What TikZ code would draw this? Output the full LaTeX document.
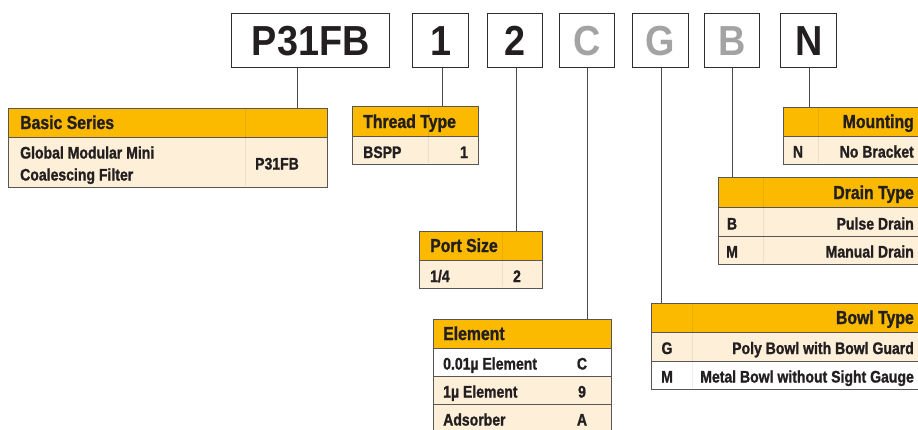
\documentclass[tikz,border=0pt]{standalone}
\usepackage{fontspec}
\newfontfamily\cf{Liberation Sans}[FakeStretch=0.84,FakeBold=1.2]
\newfontfamily\topfont{Liberation Sans}[FakeStretch=0.9]
\definecolor{hdr}{HTML}{FBBA00}
\definecolor{cream}{HTML}{FEF0D8}
\definecolor{ink}{HTML}{231F20}
\definecolor{greyink}{HTML}{A3A3A3}
\definecolor{boxline}{HTML}{2E2E2E}
\definecolor{tabline}{HTML}{5A5655}
\definecolor{linkc}{HTML}{4A4A4A}
\tikzset{
  codebox/.style={draw=boxline, line width=1.3pt, minimum height=54pt, inner sep=0pt, anchor=north west,
    font=\topfont\bfseries\fontsize{42}{42}\selectfont, text=ink},
  hdrcell/.style={draw=tabline, line width=1.2pt, fill=hdr, inner sep=0pt, anchor=north west},
  creamcell/.style={draw=tabline, line width=1.2pt, fill=cream, inner sep=0pt, anchor=north west},
  whitecell/.style={draw=tabline, line width=1.2pt, fill=white, inner sep=0pt, anchor=north west},
  htext/.style={font=\cf\bfseries\fontsize{18.8}{20}\selectfont, text=ink, inner sep=0pt},
  btext/.style={font=\cf\bfseries\fontsize{16.7}{18}\selectfont, text=ink, inner sep=0pt},
  link/.style={draw=linkc, line width=1pt},
  divider/.style={draw=black, draw opacity=0.07, line width=0.5pt}
}
\begin{document}
\begin{tikzpicture}[x=1pt,y=-1pt]
\clip (0,0) rectangle (918,429);
\fill[white] (0,0) rectangle (918,429);

% ---- top code boxes ----
\node[codebox, minimum width=158pt] (tP) at (231,13) {P31FB};
\node[codebox, minimum width=56pt] (t1) at (412,13) {1};
\node[codebox, minimum width=55pt] (t2) at (487,13) {2};
\node[codebox, minimum width=55pt, text=greyink] (tC) at (559,13) {C};
\node[codebox, minimum width=56pt, text=greyink] (tG) at (632,13) {G};
\node[codebox, minimum width=55pt, text=greyink] (tB) at (704,13) {B};
\node[codebox, minimum width=56pt] (tN) at (780,13) {N};

% ---- Basic Series ----
\node[hdrcell, minimum width=319pt, minimum height=29pt] (bsH) at (8,108) {};
\node[creamcell, minimum width=319pt, minimum height=50pt] (bsB) at (8,137) {};
\draw[divider] (245,109) -- (245,186);
\node[htext, anchor=base west] (bsT) at (20,129) {Basic Series};
\node[btext, anchor=base west] (bsL1) at (20,158.5) {Global Modular Mini};
\node[btext, anchor=base west] (bsL2) at (20,180.5) {Coalescing Filter};
\node[btext, anchor=base] (bsC) at (277,169.5) {P31FB};

% ---- Thread Type ----
\node[hdrcell, minimum width=126pt, minimum height=30pt] (thH) at (352,106) {};
\node[creamcell, minimum width=126pt, minimum height=28pt] (thB) at (352,136) {};
\draw[divider] (428,107) -- (428,163);
\node[htext, anchor=base west] (thT) at (363,128) {Thread Type};
\node[btext, anchor=base west] (thL) at (363,158) {BSPP};
\node[btext, anchor=base] (thC) at (464,158) {1};

% ---- Port Size ----
\node[hdrcell, minimum width=123pt, minimum height=29pt] (psH) at (419,231) {};
\node[creamcell, minimum width=123pt, minimum height=28pt] (psB) at (419,260) {};
\draw[divider] (502,232) -- (502,287);
\node[htext, anchor=base west] (psT) at (430,252) {Port Size};
\node[btext, anchor=base west] (psL) at (430,282) {1/4};
\node[btext, anchor=base] (psC) at (517,282) {2};

% ---- Element ----
\node[hdrcell, minimum width=178pt, minimum height=29pt] (elH) at (433,319) {};
\node[whitecell, minimum width=178pt, minimum height=28pt] (elR1) at (433,348) {};
\node[creamcell, minimum width=178pt, minimum height=28pt] (elR2) at (433,376) {};
\node[creamcell, minimum width=178pt, minimum height=28pt] (elR3) at (433,404) {};
\node[htext, anchor=base west] (elT) at (443,340) {Element};
\node[btext, anchor=base west] (elL1) at (443,369.5) {0.01µ Element};
\node[btext, anchor=base] (elC1) at (582,369.5) {C};
\node[btext, anchor=base west] (elL2) at (443,397.5) {1µ Element};
\node[btext, anchor=base] (elC2) at (582,397.5) {9};
\node[btext, anchor=base west] (elL3) at (443,425.5) {Adsorber};
\node[btext, anchor=base] (elC3) at (582,425.5) {A};

% ---- Bowl Type ----
\node[hdrcell, minimum width=274pt, minimum height=29pt] (bwH) at (651,303) {};
\node[creamcell, minimum width=274pt, minimum height=29pt] (bwR1) at (651,332) {};
\node[whitecell, minimum width=274pt, minimum height=28pt] (bwR2) at (651,361) {};
\draw[divider] (692,304) -- (692,388);
\node[htext, anchor=base east] (bwT) at (914,324) {Bowl Type};
\node[btext, anchor=base] (bwC1) at (667,354) {G};
\node[btext, anchor=base east] (bwL1) at (914,354) {Poly Bowl with Bowl Guard};
\node[btext, anchor=base] (bwC2) at (667,382.5) {M};
\node[btext, anchor=base east] (bwL2) at (914,382.5) {Metal Bowl without Sight Gauge};

% ---- Drain Type ----
\node[hdrcell, minimum width=207pt, minimum height=30pt] (drH) at (718,177) {};
\node[creamcell, minimum width=207pt, minimum height=29pt] (drR1) at (718,207) {};
\node[creamcell, minimum width=207pt, minimum height=28pt] (drR2) at (718,236) {};
\draw[divider] (763,178) -- (763,263);
\node[htext, anchor=base east] (drT) at (914,199) {Drain Type};
\node[btext, anchor=base] (drC1) at (732,229.5) {B};
\node[btext, anchor=base east] (drL1) at (914,229.5) {Pulse Drain};
\node[btext, anchor=base] (drC2) at (732,257.5) {M};
\node[btext, anchor=base east] (drL2) at (914,257.5) {Manual Drain};

% ---- Mounting ----
\node[hdrcell, minimum width=142pt, minimum height=29pt] (mtH) at (783,107) {};
\node[creamcell, minimum width=142pt, minimum height=28pt] (mtB) at (783,136) {};
\draw[divider] (818,108) -- (818,163);
\node[htext, anchor=base east] (mtT) at (914,128) {Mounting};
\node[btext, anchor=base] (mtC) at (798,157.5) {N};
\node[btext, anchor=base east] (mtL) at (914,157.5) {No Bracket};

% ---- connectors ----
\draw[link] ([xshift=-13.3pt]tP.south) -- ([xshift=-13.3pt]tP.south |- bsH.north);
\draw[link] ([xshift=2pt]t1.south) -- ([xshift=2pt]t1.south |- thH.north);
\draw[link] ([xshift=1.5pt]t2.south) -- ([xshift=1.5pt]t2.south |- psH.north);
\draw[link] ([xshift=0.5pt]tC.south) -- ([xshift=0.5pt]tC.south |- elH.north);
\draw[link] ([xshift=1pt]tG.south) -- ([xshift=1pt]tG.south |- bwH.north);
\draw[link] ([xshift=0.5pt]tB.south) -- ([xshift=0.5pt]tB.south |- drH.north);
\draw[link] ([xshift=1pt]tN.south) -- ([xshift=1pt]tN.south |- mtH.north);
\end{tikzpicture}
\end{document}
